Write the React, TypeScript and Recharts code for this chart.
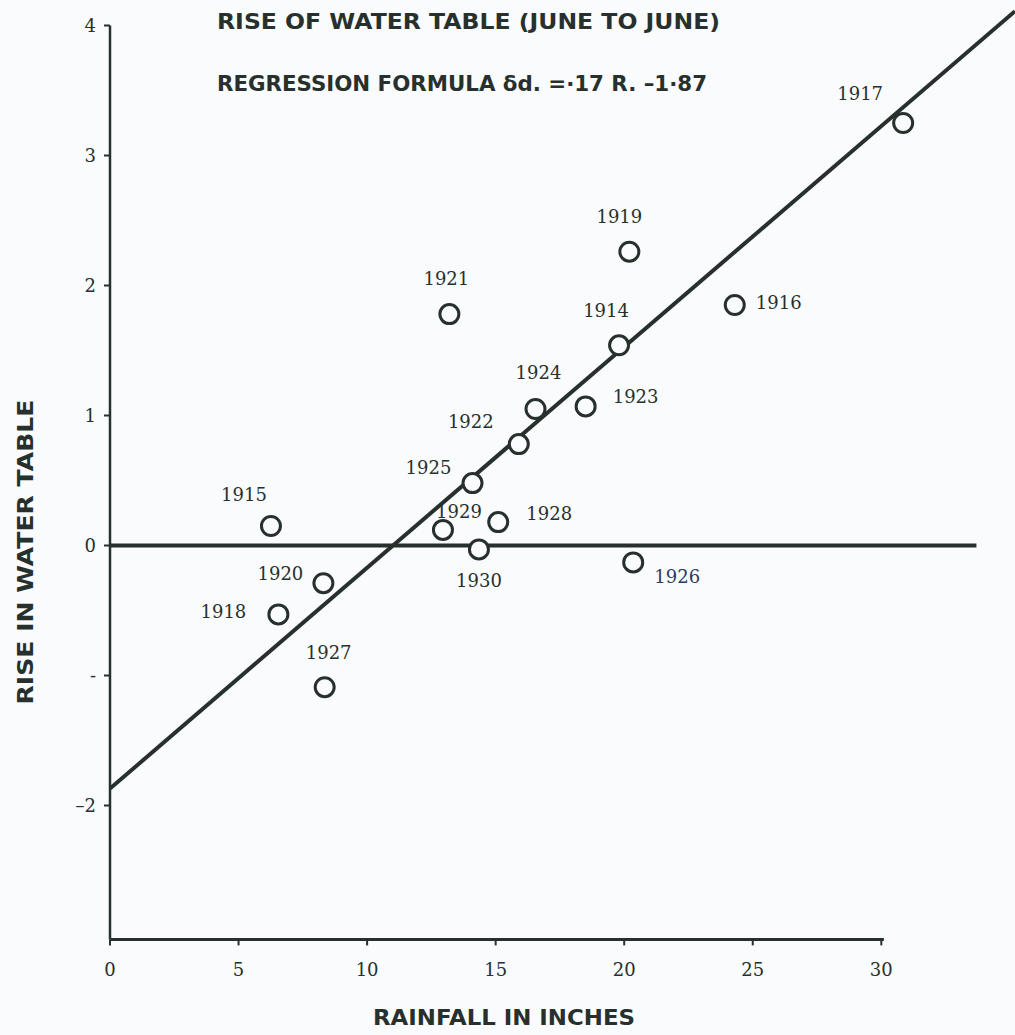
import React from "react";
import {
  ScatterChart,
  Scatter,
  XAxis,
  YAxis,
  ReferenceLine,
} from "recharts";

// observations, one per year (June to June)
const years = [1914, 1915, 1916, 1917, 1918, 1919, 1920, 1921, 1922, 1923, 1924, 1925, 1926, 1927, 1928, 1929, 1930];
const rainfall = [19.8, 6.26, 24.3, 30.85, 6.55, 20.2, 8.3, 13.2, 15.9, 18.5, 16.55, 14.1, 20.35, 8.35, 15.1, 12.95, 14.35];
const riseInWaterTable = [1.54, 0.15, 1.85, 3.25, -0.53, 2.26, -0.29, 1.78, 0.78, 1.07, 1.05, 0.48, -0.13, -1.09, 0.18, 0.12, -0.03];

// regression line  δd = ·17 R − 1·87, as drawn across the sheet
const regressionLine = [
  { rain: 0, rise: -1.87 },
  { rain: 35.2, rise: 4.11 },
];
// the heavy zero line
const zeroLine = [
  { rain: 0, rise: 0 },
  { rain: 33.7, rise: 0 },
];

const xTicks = [0, 5, 10, 15, 20, 25, 30];
const yTicks = [4, 3, 2, 1, 0, -1, -2];
const yTickText: Record<number, string> = { 4: "4", 3: "3", 2: "2", 1: "1", 0: "0", [-1]: "-", [-2]: "–2" };

// where each year's label sits relative to its circle
const labelOffset: Record<number, [number, number]> = {
  1914: [-13, -35],
  1915: [-27, -32],
  1916: [44, -3],
  1917: [-43, -30],
  1918: [-55, -3],
  1919: [-10, -35],
  1920: [-43, -10],
  1921: [-3, -36],
  1922: [-48, -23],
  1923: [50, -10],
  1924: [3, -37],
  1925: [-44, -16],
  1926: [44, 14],
  1927: [4, -35],
  1928: [51, -9],
  1929: [16, -18],
  1930: [0, 31],
};

const points = years.map((year, i) => ({ year, rain: rainfall[i], rise: riseInWaterTable[i] }));

const INK = "#27302c";
const PAPER = "#f9fbfc";
const SERIF = "'DejaVu Serif', 'Liberation Serif', serif";
const HEAD = "'DejaVu Sans', sans-serif";

const YearPoint = (props: any) => {
  const { cx, cy, payload } = props;
  if (cx == null || cy == null) return <g />;
  const [dx, dy] = labelOffset[payload.year] || [0, -30];
  const txtColor = payload.year === 1926 ? "#2b3a66" : INK;
  return (
    <g>
      <circle cx={cx} cy={cy} r={9.5} fill={PAPER} stroke={INK} strokeWidth={3} />
      <text
        x={cx + dx}
        y={cy + dy}
        textAnchor="middle"
        dominantBaseline="central"
        fontFamily={SERIF}
        fontSize={18}
        fill={txtColor}
      >
        {payload.year}
      </text>
    </g>
  );
};

const NoMark = () => <g />;

export default function App() {
  return (
    <div style={{ position: "absolute", left: 0, top: 0, width: 1015, height: 1035, background: PAPER }}>
      <ScatterChart width={1015} height={1035} margin={{ top: 6, right: 0, bottom: 0, left: 0 }}>
        <XAxis
          type="number"
          dataKey="rain"
          domain={[0, 35.2]}
          ticks={xTicks}
          interval={0}
          allowDataOverflow
          axisLine={false}
          tickLine={{ stroke: INK, strokeWidth: 2 }}
          tickSize={6}
          tickMargin={18}
          height={95.6}
          tick={{ fontFamily: SERIF, fontSize: 18, fill: INK }}
        />
        <YAxis
          type="number"
          dataKey="rise"
          domain={[-3.03, 4.15]}
          ticks={yTicks}
          interval={0}
          allowDataOverflow
          axisLine={false}
          tickLine={{ stroke: INK, strokeWidth: 2 }}
          tickSize={6}
          tickMargin={8}
          width={110}
          tickFormatter={(v: number) => yTickText[v] ?? String(v)}
          tick={{ fontFamily: SERIF, fontSize: 18, fill: INK }}
        />
        <ReferenceLine
          segment={[{ x: 0, y: -3.03 }, { x: 0, y: 4 }]}
          stroke={INK}
          strokeWidth={2.5}
          ifOverflow="visible"
        />
        <ReferenceLine
          segment={[{ x: 0, y: -3.03 }, { x: 30.1, y: -3.03 }]}
          stroke={INK}
          strokeWidth={3}
          ifOverflow="visible"
        />
        <Scatter
          data={zeroLine}
          line={{ stroke: INK, strokeWidth: 4 }}
          shape={NoMark}
          isAnimationActive={false}
        />
        <Scatter
          data={regressionLine}
          line={{ stroke: INK, strokeWidth: 4 }}
          shape={NoMark}
          isAnimationActive={false}
        />
        <Scatter data={points} shape={YearPoint} isAnimationActive={false} />
      </ScatterChart>
      <svg
        width={1015}
        height={1035}
        style={{ position: "absolute", left: 0, top: 0, pointerEvents: "none" }}
      >
        <text x={217} y={29} fontFamily={HEAD} fontWeight="bold" fontSize={22} fill={INK} textLength={503} lengthAdjust="spacingAndGlyphs">
          RISE OF WATER TABLE (JUNE TO JUNE)
        </text>
        <text x={217} y={91} fontFamily={HEAD} fontWeight="bold" fontSize={22} fill={INK} textLength={490} lengthAdjust="spacingAndGlyphs">
          REGRESSION FORMULA δd. =·17 R. –1·87
        </text>
        <text x={373} y={1025} fontFamily={HEAD} fontWeight="bold" fontSize={22} fill={INK} textLength={262} lengthAdjust="spacingAndGlyphs">
          RAINFALL IN INCHES
        </text>
        <text
          x={0}
          y={0}
          transform="translate(33 552) rotate(-90)"
          textAnchor="middle"
          fontFamily={HEAD}
          fontWeight="bold"
          fontSize={22}
          fill={INK}
          textLength={305}
          lengthAdjust="spacingAndGlyphs"
        >
          RISE IN WATER TABLE
        </text>
      </svg>
    </div>
  );
}
